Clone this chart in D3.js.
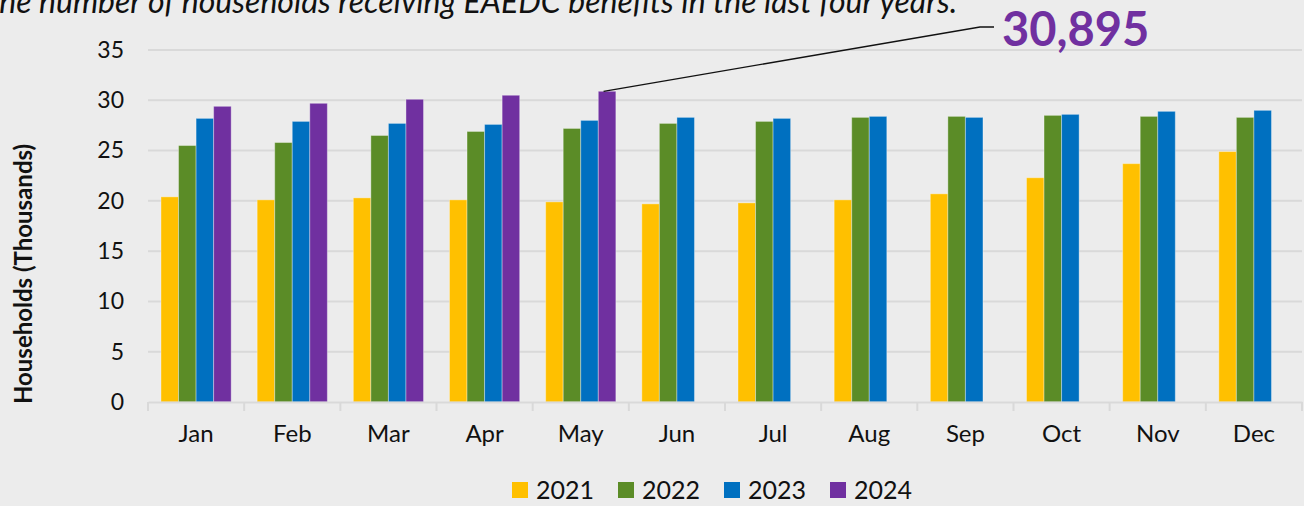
<!DOCTYPE html>
<html>
<head>
<meta charset="utf-8">
<script src="https://cdn.jsdelivr.net/npm/d3@7"></script>
<style>
  html, body { margin: 0; padding: 0; background: #ececec; }
  svg { display: block; font-family: Lato, "Open Sans", sans-serif; }
</style>
</head>
<body>
<svg id="chart" width="1304" height="506"></svg>
<script>
// data (thousands of households)
var months = ["Jan", "Feb", "Mar", "Apr", "May", "Jun", "Jul", "Aug", "Sep", "Oct", "Nov", "Dec"];
var years = ["2021", "2022", "2023", "2024"];
var v2021 = [20.4, 20.1, 20.3, 20.1, 19.9, 19.7, 19.8, 20.1, 20.7, 22.3, 23.7, 24.9];
var v2022 = [25.5, 25.8, 26.5, 26.9, 27.2, 27.7, 27.9, 28.3, 28.4, 28.5, 28.4, 28.3];
var v2023 = [28.2, 27.9, 27.7, 27.6, 28.0, 28.3, 28.2, 28.4, 28.3, 28.6, 28.9, 29.0];
var v2024 = [29.4, 29.7, 30.1, 30.5, 30.895];
var yTicks = [0, 5, 10, 15, 20, 25, 30, 35];
var title = "The number of households receiving EAEDC benefits in the last four years.";
var callout = "30,895";

var colors = { "2021": "#ffc000", "2022": "#5b8c27", "2023": "#0070c0", "2024": "#7030a0" };
var seriesByYear = { "2021": v2021, "2022": v2022, "2023": v2023, "2024": v2024 };

var svg = d3.select("#chart");
var plotLeft = 148, plotRight = 1302, plotTop = 50, plotBottom = 402;

var x0 = d3.scaleBand().domain(months).range([plotLeft, plotRight]).paddingInner(0.27).paddingOuter(0.135);
var x1 = d3.scaleBand().domain(years).range([0, x0.bandwidth()]);
var y = d3.scaleLinear().domain([0, 35]).range([plotBottom, plotTop]);

// cropped title at the very top
svg.append("text")
    .attr("x", -18).attr("y", 13)
    .attr("font-size", 32).attr("font-style", "italic")
    .attr("fill", "#111")
    .text(title);

// gridlines
svg.append("g").selectAll("line")
    .data(yTicks.filter(function (d) { return d > 0; }))
    .enter().append("line")
    .attr("x1", plotLeft).attr("x2", plotRight)
    .attr("y1", function (d) { return y(d); }).attr("y2", function (d) { return y(d); })
    .attr("stroke", "#d9d9d9").attr("stroke-width", 2);

// y axis labels
var yAxis = svg.append("g")
    .attr("transform", "translate(" + (plotLeft - 14) + ",0)")
    .call(d3.axisLeft(y).tickValues(yTicks).tickSize(0).tickPadding(10));
yAxis.select(".domain").remove();
yAxis.selectAll("text").attr("font-size", 23).attr("fill", "#111").style("font-family", "Lato, sans-serif");

// bars
var rows = [];
months.forEach(function (m, i) {
    years.forEach(function (yr) {
        var v = seriesByYear[yr][i];
        if (v != null) rows.push({ month: m, year: yr, value: v });
    });
});

svg.append("g").selectAll("rect")
    .data(rows)
    .enter().append("rect")
    .attr("x", function (d) { return x0(d.month) + x1(d.year); })
    .attr("width", x1.bandwidth())
    .attr("y", function (d) { return y(d.value); })
    .attr("height", function (d) { return y(0) - y(d.value); })
    .attr("fill", function (d) { return colors[d.year]; })
    .attr("stroke", "rgba(255,255,255,0.35)")
    .attr("stroke-width", 1);

// x axis
var xAxis = svg.append("g")
    .attr("transform", "translate(0," + plotBottom + ")")
    .call(d3.axisBottom(x0).tickSize(0).tickPadding(23));
xAxis.select(".domain").attr("stroke", "#d9d9d9").attr("stroke-width", 2);
xAxis.selectAll("text").attr("font-size", 24).attr("fill", "#111").style("font-family", "Lato, sans-serif");

// category separators
var bounds = months.map(function (m) { return x0(m) - x0.step() * x0.paddingInner() / 2; });
bounds.push(plotRight);
svg.append("g").selectAll("line")
    .data(bounds)
    .enter().append("line")
    .attr("x1", function (d) { return d; }).attr("x2", function (d) { return d; })
    .attr("y1", plotBottom).attr("y2", plotBottom + 9)
    .attr("stroke", "#d9d9d9").attr("stroke-width", 2);

// y axis title
svg.append("text")
    .attr("transform", "translate(32,274) rotate(-90)")
    .attr("text-anchor", "middle")
    .attr("font-size", 24).attr("font-weight", "bold")
    .attr("fill", "#111")
    .text("Households (Thousands)");

// callout for May 2024
var peakX = x0("May") + x1("2024") + x1.bandwidth() * 0.3;
var peakY = y(v2024[4]);
svg.append("polyline")
    .attr("points", [[peakX, peakY], [980, 27], [994, 27]].map(function (p) { return p.join(","); }).join(" "))
    .attr("fill", "none").attr("stroke", "#111").attr("stroke-width", 1.3);
svg.append("text")
    .attr("x", 1002).attr("y", 46)
    .attr("font-size", 47).attr("font-weight", "bold")
    .attr("fill", "#7030a0")
    .text(callout);

// legend
var legend = svg.append("g").selectAll("g")
    .data(years)
    .enter().append("g")
    .attr("transform", function (d, i) { return "translate(" + (512 + i * 106) + ",482)"; });
legend.append("rect")
    .attr("width", 16).attr("height", 16)
    .attr("fill", function (d) { return colors[d]; });
legend.append("text")
    .attr("x", 24).attr("y", 17)
    .attr("font-size", 25).attr("fill", "#111")
    .text(function (d) { return d; });
</script>
</body>
</html>
